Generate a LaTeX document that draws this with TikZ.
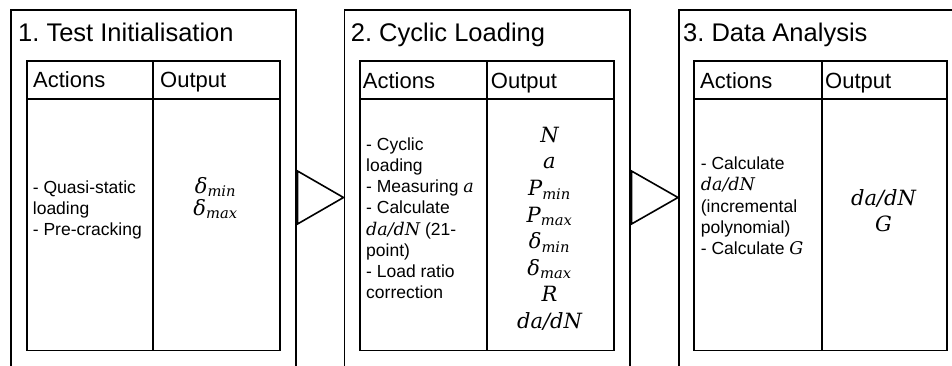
\documentclass[tikz,border=0pt]{standalone}
\usepackage{fontspec}
\setmainfont{Liberation Sans}
\newfontfamily\mathser{DejaVu Serif}
\frenchspacing
\newcommand\firststrut{\rule{0pt}{15pt}}
\newcommand\firststrutm{\rule{0pt}{16pt}}
\newcommand\mi[1]{{\mathser\itshape #1}}
\newcommand\ms[2]{\mi{#1}\textsubscript{\mathser\itshape #2}}
\newcommand\im[1]{{\fontsize{17.5}{21}\selectfont\mi{#1}}}
\newcommand\fixedlines{\lineskiplimit=-30pt\relax}
\tikzset{
  frame/.style={draw, line width=1.6pt},
  panel/.style={frame, anchor=north west, inner sep=0pt, minimum width=#1, minimum height=380pt},
  cellbox/.style={frame, anchor=north west, inner sep=0pt, minimum width=#1},
  titletext/.style={anchor=base west, inner sep=0pt, font=\fontsize{25.5}{30}\selectfont},
  headtext/.style={anchor=base west, inner sep=0pt, font=\fontsize{22}{26}\selectfont},
  acttext/.style={anchor=north west, inner sep=0pt, align=left, font={\fontsize{17.5}{21.2}\selectfont\fixedlines}},
  outtext/.style={anchor=north, inner sep=0pt, align=center, font={\fontsize{21}{#1}\selectfont\fixedlines}},
  tri/.style={frame, line join=miter, fill=white}
}
\begin{document}
\begin{tikzpicture}[x=1pt, y=-1pt]
\useasboundingbox (0,0) rectangle (952,365);
\clip (0,0) rectangle (952,365);
\fill[white] (0,0) rectangle (952,365);

% ---------- Panel 1
\node[panel=285pt] (p1) at (10,9) {};
\node[titletext] (t1) at (18,41) {1. Test Initialisation};
\node[cellbox=126pt, minimum height=38pt] (a1h) at (26,60) {};
\node[cellbox=127pt, minimum height=38pt] (o1h) at (152,60) {};
\node[cellbox=126pt, minimum height=251.5pt] (a1b) at (26,98) {};
\node[cellbox=127pt, minimum height=251.5pt] (o1b) at (152,98) {};
\node[headtext] (h1a) at (33,87) {Actions};
\node[headtext] (h1o) at (160,87) {Output};
\node[acttext] (a1t) at (32.7,178) {\firststrut- Quasi-static\\loading\\- Pre-cracking};
\node[outtext=22pt] (o1t) at (215.5,177) {\firststrutm\ms{δ}{min}\\\ms{δ}{max}};

% ---------- Panel 2
\node[panel=285.5pt] (p2) at (343.5,9) {};
\node[titletext] (t2) at (350.7,41.5) {2. Cyclic Loading};
\node[cellbox=127pt, minimum height=38pt] (a2h) at (359,60) {};
\node[cellbox=127pt, minimum height=38pt] (o2h) at (486,60) {};
\node[cellbox=127pt, minimum height=251.5pt] (a2b) at (359,98) {};
\node[cellbox=127pt, minimum height=251.5pt] (o2b) at (486,98) {};
\node[headtext] (h2a) at (362.7,88) {Actions};
\node[headtext] (h2o) at (490.7,88) {Output};
\node[acttext] (a2t) at (366,135) {\firststrut- Cyclic\\loading\\- Measuring \im{a}\\- Calculate\\\im{da/dN} (21-\\point)\\- Load ratio\\correction};
\node[outtext=26.6pt] (o2t) at (549.5,126) {\firststrutm\mi{N}\\\mi{a}\\\ms{P}{min}\\\ms{P}{max}\\\ms{δ}{min}\\\ms{δ}{max}\\\mi{R}\\\mi{da/dN}};

% ---------- Panel 3
\node[panel=286pt] (p3) at (678,9) {};
\node[titletext] (t3) at (683,41) {3. Data Analysis};
\node[cellbox=128pt, minimum height=38pt] (a3h) at (693,60) {};
\node[cellbox=125pt, minimum height=38pt] (o3h) at (821,60) {};
\node[cellbox=128pt, minimum height=251.5pt] (a3b) at (693,98) {};
\node[cellbox=125pt, minimum height=251.5pt] (o3b) at (821,98) {};
\node[headtext] (h3a) at (700,88) {Actions};
\node[headtext] (h3o) at (825,88) {Output};
\node[acttext] (a3t) at (700.7,154.5) {\firststrut- Calculate\\\im{da/dN}\\(incremental\\polynomial)\\- Calculate \im{G}};
\node[outtext=26.7pt] (o3t) at (883.5,189) {\firststrutm\mi{da/dN}\\\mi{G}};

% ---------- Connectors (triangles)
\coordinate (m1) at (297.5,197.5);
\coordinate (m2) at (631.5,197.5);
\draw[tri] ([yshift=26.5pt]m1) -- (p2.west |- m1) -- ([yshift=-26.5pt]m1) -- cycle;
\draw[tri] ([yshift=26.5pt]m2) -- (p3.west |- m2) -- ([yshift=-26.5pt]m2) -- cycle;
\end{tikzpicture}
\end{document}
